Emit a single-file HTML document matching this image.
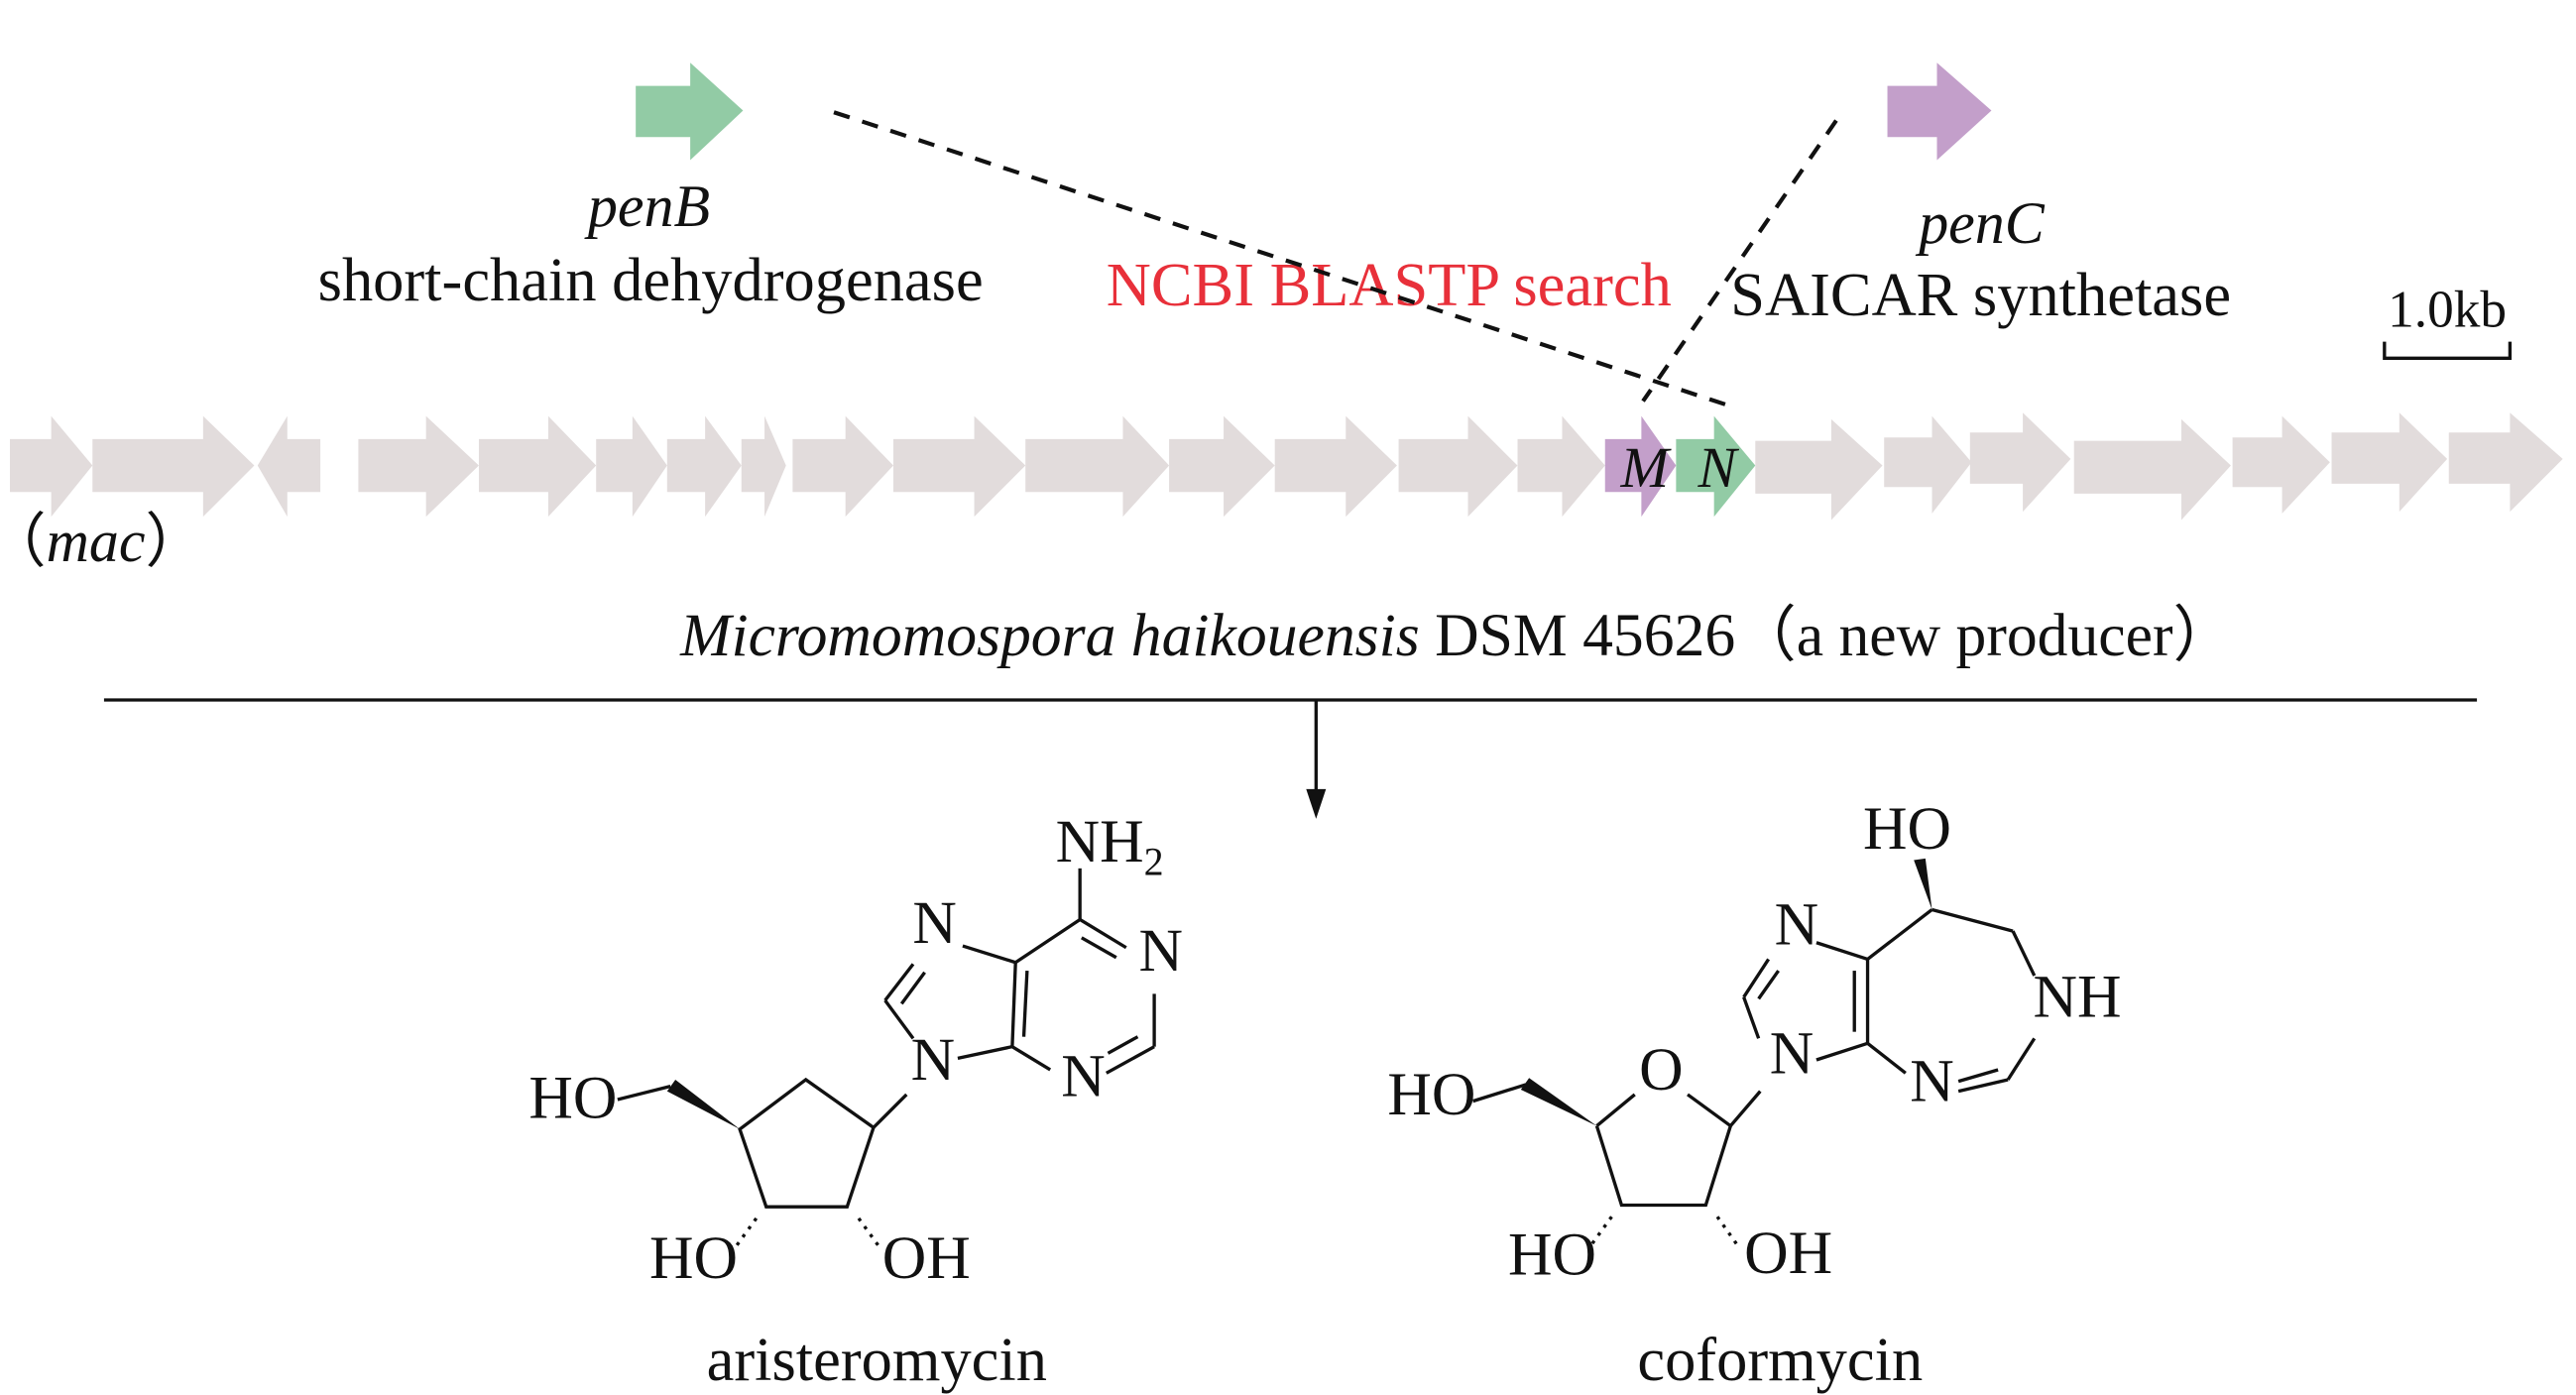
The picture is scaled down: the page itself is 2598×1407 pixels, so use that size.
<!DOCTYPE html>
<html><head><meta charset="utf-8"><style>
html,body{margin:0;padding:0;background:#fff;width:2598px;height:1407px;overflow:hidden}
svg{display:block}
text{font-family:"Liberation Serif",serif;fill:#111}
.at{font-size:37px;text-anchor:middle}
.b{stroke:#111;stroke-width:2;fill:none}
</style></head><body>
<svg width="2598" height="1407" viewBox="0 0 1560 845" preserveAspectRatio="none" xmlns="http://www.w3.org/2000/svg">
<!-- top gene arrows -->
<polygon points="385,52 418,52 418,38 450,67 418,97 418,83 385,83" fill="#92cba5"/>
<polygon points="1143,52 1173,52 1173,38 1206,67 1173,97 1173,83 1143,83" fill="#c39fca"/>
<text x="393" y="137" font-size="36" font-style="italic" text-anchor="middle">penB</text>
<text x="394" y="182" font-size="37.5" text-anchor="middle">short-chain dehydrogenase</text>
<text x="1200" y="147" font-size="36" font-style="italic" text-anchor="middle">penC</text>
<text x="1048" y="191" font-size="37.5">SAICAR synthetase</text>
<text x="670" y="185" font-size="37.5" style="fill:#e8303a">NCBI BLASTP search</text>
<text x="1482" y="198" font-size="32" text-anchor="middle">1.0kb</text>
<path d="M1444,207 V217 H1520 V207" class="b"/>
<line x1="505" y1="68" x2="1045" y2="245" stroke="#111" stroke-width="2.5" stroke-dasharray="10,8"/>
<line x1="1112" y1="73" x2="995" y2="243" stroke="#111" stroke-width="2.5" stroke-dasharray="10,8"/>
<!-- gene cluster -->
<g fill="#e2dcdc">
<polygon points="6,266 31,266 31,252 56,282 31,313 31,298 6,298"/>
<polygon points="56,266 123,266 123,252 154,282 123,313 123,298 56,298"/>
<polygon points="194,266 174,266 174,252 156,282 174,313 174,298 194,298"/>
<polygon points="217,266 258,266 258,252 290,282 258,313 258,298 217,298"/>
<polygon points="290,266 332,266 332,252 361,282 332,313 332,298 290,298"/>
<polygon points="361,266 383,266 383,252 404,282 383,313 383,298 361,298"/>
<polygon points="404,266 427,266 427,252 449,282 427,313 427,298 404,298"/>
<polygon points="449,266 463,266 463,252 476,282 463,313 463,298 449,298"/>
<polygon points="480,266 512,266 512,252 541,282 512,313 512,298 480,298"/>
<polygon points="541,266 590,266 590,252 621,282 590,313 590,298 541,298"/>
<polygon points="621,266 680,266 680,252 708,282 680,313 680,298 621,298"/>
<polygon points="708,266 741,266 741,252 772,282 741,313 741,298 708,298"/>
<polygon points="772,266 815,266 815,252 846,282 815,313 815,298 772,298"/>
<polygon points="847,266 889,266 889,252 919,282 889,313 889,298 847,298"/>
<polygon points="919,266 946,266 946,252 972,282 946,313 946,298 919,298"/>
<polygon points="1063,267 1109,267 1109,254 1140,282 1109,315 1109,299 1063,299"/>
<polygon points="1141,265 1170,265 1170,252 1194,280 1170,311 1170,295 1141,295"/>
<polygon points="1193,262 1225,262 1225,250 1254,278 1225,310 1225,293 1193,293"/>
<polygon points="1256,267 1321,267 1321,254 1351,282 1321,315 1321,299 1256,299"/>
<polygon points="1352,265 1382,265 1382,252 1411,280 1382,311 1382,295 1352,295"/>
<polygon points="1412,262 1453,262 1453,250 1482,278 1453,310 1453,293 1412,293"/>
<polygon points="1483,262 1520,262 1520,250 1552,278 1520,310 1520,293 1483,293"/>
</g>
<polygon points="972,266 994,266 994,252 1015,282 994,313 994,298 972,298" fill="#c39fca"/>
<polygon points="1015,266 1038,266 1038,252 1063,282 1038,313 1038,298 1015,298" fill="#92cba5"/>
<text x="996" y="295" font-size="35" font-style="italic" text-anchor="middle">M</text>
<text x="1040" y="295" font-size="35" font-style="italic" text-anchor="middle">N</text>
<text x="-8" y="340" font-size="36">（<tspan font-style="italic">mac</tspan>）</text>
<text x="412" y="397" font-size="37">  <tspan font-style="italic">Micromomospora haikouensis</tspan> DSM 45626（a new producer）</text>
<line x1="63" y1="424" x2="1500" y2="424" stroke="#111" stroke-width="2"/>
<line x1="797" y1="424" x2="797" y2="485" stroke="#111" stroke-width="2"/>
<polygon points="791,478 803,478 797,496" fill="#111"/>
<!-- aristeromycin -->
<g class="b">
<line x1="654" y1="557" x2="654" y2="526"/>
<line x1="654" y1="557" x2="682" y2="574"/>
<line x1="655" y1="568" x2="676" y2="580"/>
<line x1="699" y1="602" x2="699" y2="634"/>
<line x1="699" y1="634" x2="670" y2="650"/>
<line x1="689" y1="628" x2="671" y2="638"/>
<line x1="636" y1="648" x2="613" y2="634"/>
<line x1="613" y1="634" x2="615" y2="583"/>
<line x1="622" y1="588" x2="620" y2="628"/>
<line x1="615" y1="583" x2="654" y2="557"/>
<line x1="615" y1="583" x2="583" y2="573"/>
<line x1="553" y1="584" x2="536" y2="606"/>
<line x1="560" y1="589" x2="546" y2="608"/>
<line x1="536" y1="606" x2="553" y2="629"/>
<line x1="580" y1="641" x2="613" y2="634"/>
<line x1="549" y1="663" x2="529" y2="683"/>
<polyline points="529,683 488,654 448,684 464,731 513,731 529,683"/>
<line x1="406" y1="658" x2="374" y2="666"/>
</g>
<polygon points="448,684 404,661 409,654" fill="#111"/>
<g stroke="#111" stroke-width="2" stroke-dasharray="2,4"><line x1="458" y1="738" x2="445" y2="756"/><line x1="520" y1="738" x2="533" y2="756"/></g>
<text class="at" x="672" y="522">NH<tspan font-size="24" dy="8">2</tspan></text>
<text class="at" x="703" y="588">N</text>
<text class="at" x="656" y="664">N</text>
<text class="at" x="566" y="571">N</text>
<text class="at" x="565" y="654">N</text>
<text class="at" x="347" y="677">HO</text>
<text class="at" x="420" y="774">HO</text>
<text class="at" x="561" y="774">OH</text>
<text x="531" y="836" font-size="37.5" text-anchor="middle">aristeromycin</text>
<!-- coformycin -->
<g class="b">
<line x1="990" y1="663" x2="967" y2="682"/>
<line x1="1022" y1="663" x2="1048" y2="682"/>
<polyline points="967,682 982,730 1033,730 1048,682"/>
<line x1="924" y1="657" x2="892" y2="667"/>
<line x1="1048" y1="682" x2="1066" y2="661"/>
<line x1="1065" y1="629" x2="1056" y2="604"/>
<line x1="1056" y1="604" x2="1071" y2="581"/>
<line x1="1077" y1="588" x2="1065" y2="605"/>
<line x1="1100" y1="571" x2="1131" y2="581"/>
<line x1="1131" y1="581" x2="1131" y2="632"/>
<line x1="1123" y1="588" x2="1123" y2="625"/>
<line x1="1100" y1="642" x2="1131" y2="632"/>
<line x1="1131" y1="632" x2="1154" y2="650"/>
<line x1="1186" y1="661" x2="1216" y2="654"/>
<line x1="1186" y1="655" x2="1210" y2="648"/>
<line x1="1216" y1="654" x2="1232" y2="629"/>
<line x1="1232" y1="591" x2="1219" y2="564"/>
<line x1="1219" y1="564" x2="1170" y2="551"/>
<line x1="1170" y1="551" x2="1131" y2="581"/>
</g>
<polygon points="967,682 921,660 926,653" fill="#111"/>
<polygon points="1170,551 1159,521 1166,520" fill="#111"/>
<g stroke="#111" stroke-width="2" stroke-dasharray="2,4"><line x1="976" y1="737" x2="963" y2="755"/><line x1="1040" y1="737" x2="1052" y2="754"/></g>
<text class="at" x="1006" y="660">O</text>
<text class="at" x="1085" y="650">N</text>
<text class="at" x="1088" y="572">N</text>
<text class="at" x="1170" y="667">N</text>
<text class="at" x="1258" y="616">NH</text>
<text class="at" x="1155" y="514">HO</text>
<text class="at" x="867" y="675">HO</text>
<text class="at" x="940" y="772">HO</text>
<text class="at" x="1083" y="771">OH</text>
<text x="1078" y="836" font-size="37.5" text-anchor="middle">coformycin</text>
</svg>
</body></html>
